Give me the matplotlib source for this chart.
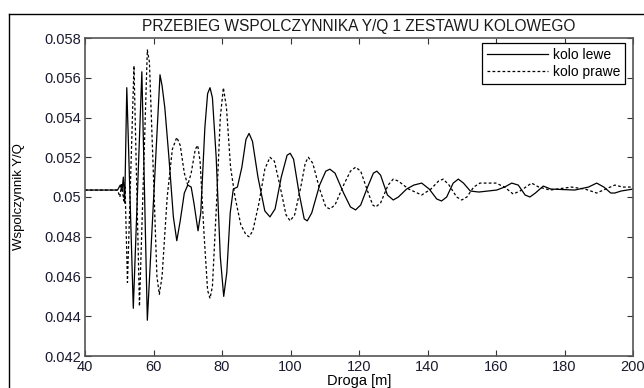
#Import required packages
import matplotlib
matplotlib.use("Agg")
import matplotlib.pyplot as plt
from matplotlib.lines import Line2D

plt.rcParams['font.family'] = ['Liberation Sans', 'DejaVu Sans']

#Values: left wheel (solid)
lewe_x = [40, 49.5, 50.3, 50.8, 51.2, 51.6, 52.2, 54.1, 56.6, 58.2, 61.9, 62.5, 63.3, 64.5,
          65.8, 66.8, 67.8, 69.0, 70.0, 71.0, 71.8, 73.0, 73.8, 75.0, 75.8, 76.5, 77.2,
          78.3, 79.5, 80.5, 81.4, 82.4, 83.3, 84.5, 85.8, 87.0, 87.9, 88.9, 90.5, 92.5,
          94.0, 95.5, 97.3, 99.0, 99.9, 100.9, 102.5, 104.0, 104.9, 106.2, 108.5, 110.3,
          111.5, 113.0, 115.5, 117.5, 119.0, 120.5, 122.5, 124.2, 125.2, 126.3, 128.3,
          130.0, 131.5, 133.9, 136.0, 138.3, 140.5, 142.7, 144.1, 145.6, 147.5, 149.0,
          150.5, 152.5, 155.0, 160.2, 162.5, 164.6, 166.5, 168.5, 169.9, 171.5, 173.8,
          176.0, 183.0, 187.0, 189.4, 191.5, 193.5, 194.7, 196.5, 200]
lewe_y = [0.05035, 0.05035, 0.0506, 0.0503, 0.0510, 0.0497, 0.0555, 0.0444, 0.0563, 0.0438,
          0.05615, 0.0556, 0.0545, 0.0520, 0.0490, 0.0478, 0.0488, 0.0502, 0.0506, 0.0505,
          0.0497, 0.0483, 0.0492, 0.0535, 0.0552, 0.0555, 0.0550, 0.0520, 0.0470, 0.0450,
          0.0462, 0.0492, 0.0504, 0.0505, 0.0515, 0.0529, 0.0532, 0.0528, 0.0510, 0.0493,
          0.0490, 0.0494, 0.0510, 0.0521, 0.0522, 0.0519, 0.0502, 0.0489, 0.0488, 0.0492,
          0.0506, 0.0513, 0.0514, 0.0512, 0.0502, 0.0495, 0.04935, 0.0496, 0.0505, 0.0512,
          0.0513, 0.0511, 0.0501, 0.04985, 0.0500, 0.0504, 0.0506, 0.0507, 0.0504, 0.0499,
          0.0498, 0.0500, 0.0507, 0.0509, 0.0507, 0.0503, 0.05025, 0.05035, 0.0505, 0.0507,
          0.0506, 0.0501, 0.0500, 0.0502, 0.05055, 0.0504, 0.05035, 0.0505, 0.0507, 0.0505,
          0.0502, 0.0502, 0.0503, 0.0504]

#Right wheel (dashed)
prawe_x = [40, 49.5, 50.2, 50.7, 51.3, 51.7, 52.4, 54.3, 55.9, 58.2, 58.8, 60.0, 61.0, 61.7,
           62.5, 64.0, 65.5, 66.8, 67.8, 69.0, 70.0, 71.0, 72.2, 72.9, 73.6, 74.8, 75.8,
           76.5, 77.2, 78.5, 79.5, 80.4, 81.3, 82.5, 83.8, 85.5, 87.0, 87.9, 89.0, 90.8,
           92.5, 94.0, 95.3, 97.0, 98.7, 99.9, 101.2, 103.0, 104.3, 105.2, 106.5, 108.5,
           110.3, 111.5, 113.0, 115.5, 117.5, 119.0, 120.5, 122.5, 124.0, 124.9, 126.3,
           128.5, 130.0, 131.5, 134.5, 138.3, 141.0, 143.2, 144.6, 146.3, 148.5, 150.0,
           151.5, 153.5, 155.3, 160.0, 162.5, 165.0, 167.0, 170.4, 172.5, 175.8, 182.0,
           186.0, 189.4, 192.0, 194.7, 197.0, 200]
prawe_y = [0.05035, 0.05035, 0.0500, 0.0507, 0.0498, 0.0505, 0.0457, 0.0566, 0.0445, 0.0574,
           0.0568, 0.0510, 0.0460, 0.0451, 0.0460, 0.0500, 0.0524, 0.0530, 0.0526, 0.0512,
           0.0506, 0.0512, 0.0524, 0.0526, 0.0518, 0.0480, 0.0453, 0.0449, 0.0455, 0.0500,
           0.0540, 0.0555, 0.0545, 0.0515, 0.0500, 0.0486, 0.0481, 0.0480, 0.0483, 0.0497,
           0.0514, 0.0520, 0.0518, 0.0505, 0.0491, 0.0488, 0.0491, 0.0505, 0.0517, 0.0520,
           0.0517, 0.0504, 0.0495, 0.0494, 0.0496, 0.0506, 0.0513, 0.0515, 0.0513, 0.0503,
           0.0496, 0.0495, 0.0497, 0.0506, 0.0509, 0.0508, 0.0504, 0.0501, 0.0504, 0.0508,
           0.0509, 0.0506, 0.0500, 0.04985, 0.0500, 0.0505, 0.0507, 0.0507, 0.0505, 0.05015,
           0.0503, 0.0507, 0.0505, 0.05035, 0.0505, 0.0504, 0.0502, 0.0504, 0.0506, 0.0505,
           0.0505]

x_ticks = list(range(40, 201, 20))
y_ticks = [0.042, 0.044, 0.046, 0.048, 0.05, 0.052, 0.054, 0.056, 0.058]
y_labels = ["0.042", "0.044", "0.046", "0.048", "0.05", "0.052", "0.054", "0.056", "0.058"]

fig = plt.figure(figsize=(6.44, 3.88), dpi=100)
ax = fig.add_axes([85/644, 32/388, 548/644, 318/388])

ax.plot(lewe_x, lewe_y, color="black", lw=0.9, label="kolo lewe")
ax.plot(prawe_x, prawe_y, color="black", lw=0.9, linestyle=(0, (2.2, 1.8)), label="kolo prawe")

ax.set_xlim(40, 200)
ax.set_ylim(0.042, 0.058)
ax.set_xticks(x_ticks)
ax.set_yticks(y_ticks)
ax.set_yticklabels(y_labels)
ax.tick_params(direction="in", length=4, top=True, right=True, labelsize=10.5,
               color="#333333", labelcolor="#1a1a2e", pad=3)
for s in ax.spines.values():
    s.set_color("#555555")
    s.set_linewidth(1.2)

ax.set_title("PRZEBIEG WSPOLCZYNNIKA Y/Q 1 ZESTAWU KOLOWEGO", fontsize=11.2, pad=5, color="#1a1a1a")
ax.set_xlabel("Droga [m]", fontsize=10.5, labelpad=0)
ax.set_ylabel("Wspolczynnik Y/Q", fontsize=9.5, labelpad=14)

leg = ax.legend(loc="upper right", bbox_to_anchor=(0.985, 0.985), fontsize=10, handlelength=4.4,
                fancybox=False, framealpha=1, edgecolor="black", borderpad=0.35,
                labelspacing=0.25, handletextpad=0.3, borderaxespad=0)
leg.get_frame().set_linewidth(0.9)

#Outer border of the screenshot
fig.add_artist(Line2D([9/644, 9/644], [0, 1 - 14/388], color="black", lw=1))
fig.add_artist(Line2D([9/644, 1], [1 - 14/388, 1 - 14/388], color="black", lw=1))

plt.savefig("out.png")
